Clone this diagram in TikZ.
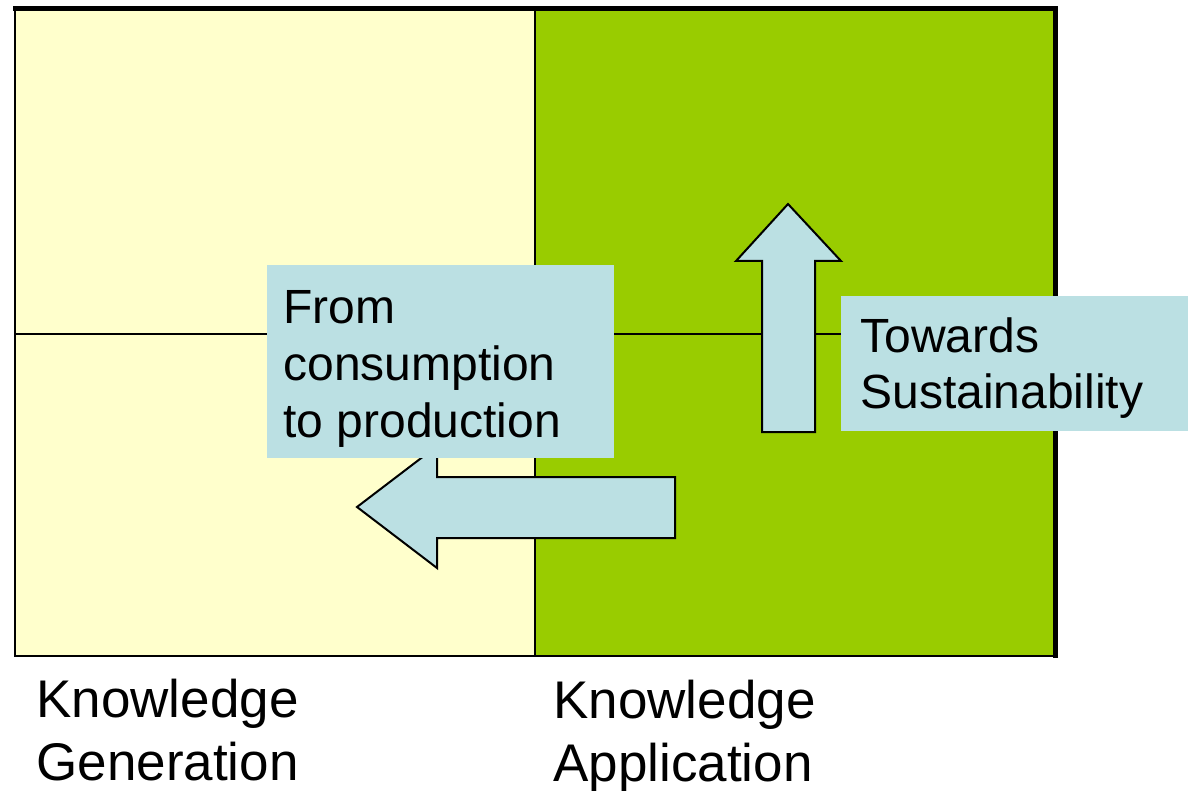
\documentclass[tikz,border=0pt]{standalone}
\usepackage{fontspec}
\setmainfont{Liberation Sans}
\definecolor{genyellow}{RGB}{255,255,204}
\definecolor{appgreen}{RGB}{153,204,0}
\definecolor{notecyan}{RGB}{187,224,227}
\begin{document}
\begin{tikzpicture}[x=0.5pt,y=-0.5pt,
    frameline/.style={line width=1.2pt},
    blockarrow/.style={draw,fill=notecyan,line width=1pt,line join=miter},
    notetext/.style={inner sep=0pt,anchor=base west,align=left}]
  \useasboundingbox (0,0) rectangle (1188,791);
  % the two halves
  \fill[genyellow] (15,9) rectangle (535,656);
  \fill[appgreen] (535,9) rectangle (1055,656);
  \begin{scope}[frameline]
    \draw (15,334) -- (1055,334);
    \draw (535,9) -- (535,656);
    \draw (15,9) -- (15,656) -- (1055,656);
    \draw[line width=2.5pt] (13,8.5) -- (1055,8.5) -- (1055,658);
  \end{scope}
  % arrows
  \draw[blockarrow] (675,477) -- (437,477) -- (437,446) -- (357,507)
    -- (437,568) -- (437,538) -- (675,538) -- cycle;
  \draw[blockarrow] (762,432) -- (762,261) -- (736,261) -- (788,204)
    -- (841,261) -- (815,261) -- (815,432) -- cycle;
  % notes (base is the last line)
  \fill[notecyan] (267,265) rectangle (614,458);
  \fill[notecyan] (841,296) rectangle (1188,431);
  \node[notetext,font=\fontsize{24}{28.5}\selectfont] (from) at (283,437)
    {From\\consumption\\to production};
  \node[notetext,font=\fontsize{24}{28}\selectfont] (towards) at (860,408)
    {Towards\\Sustainability};
  \node[notetext,font=\fontsize{26.5}{31.5}\selectfont] (gen) at (36,780)
    {Knowledge\\Generation};
  \node[notetext,font=\fontsize{26.5}{31.5}\selectfont] (app) at (553,781)
    {Knowledge\\Application};
\end{tikzpicture}
\end{document}
